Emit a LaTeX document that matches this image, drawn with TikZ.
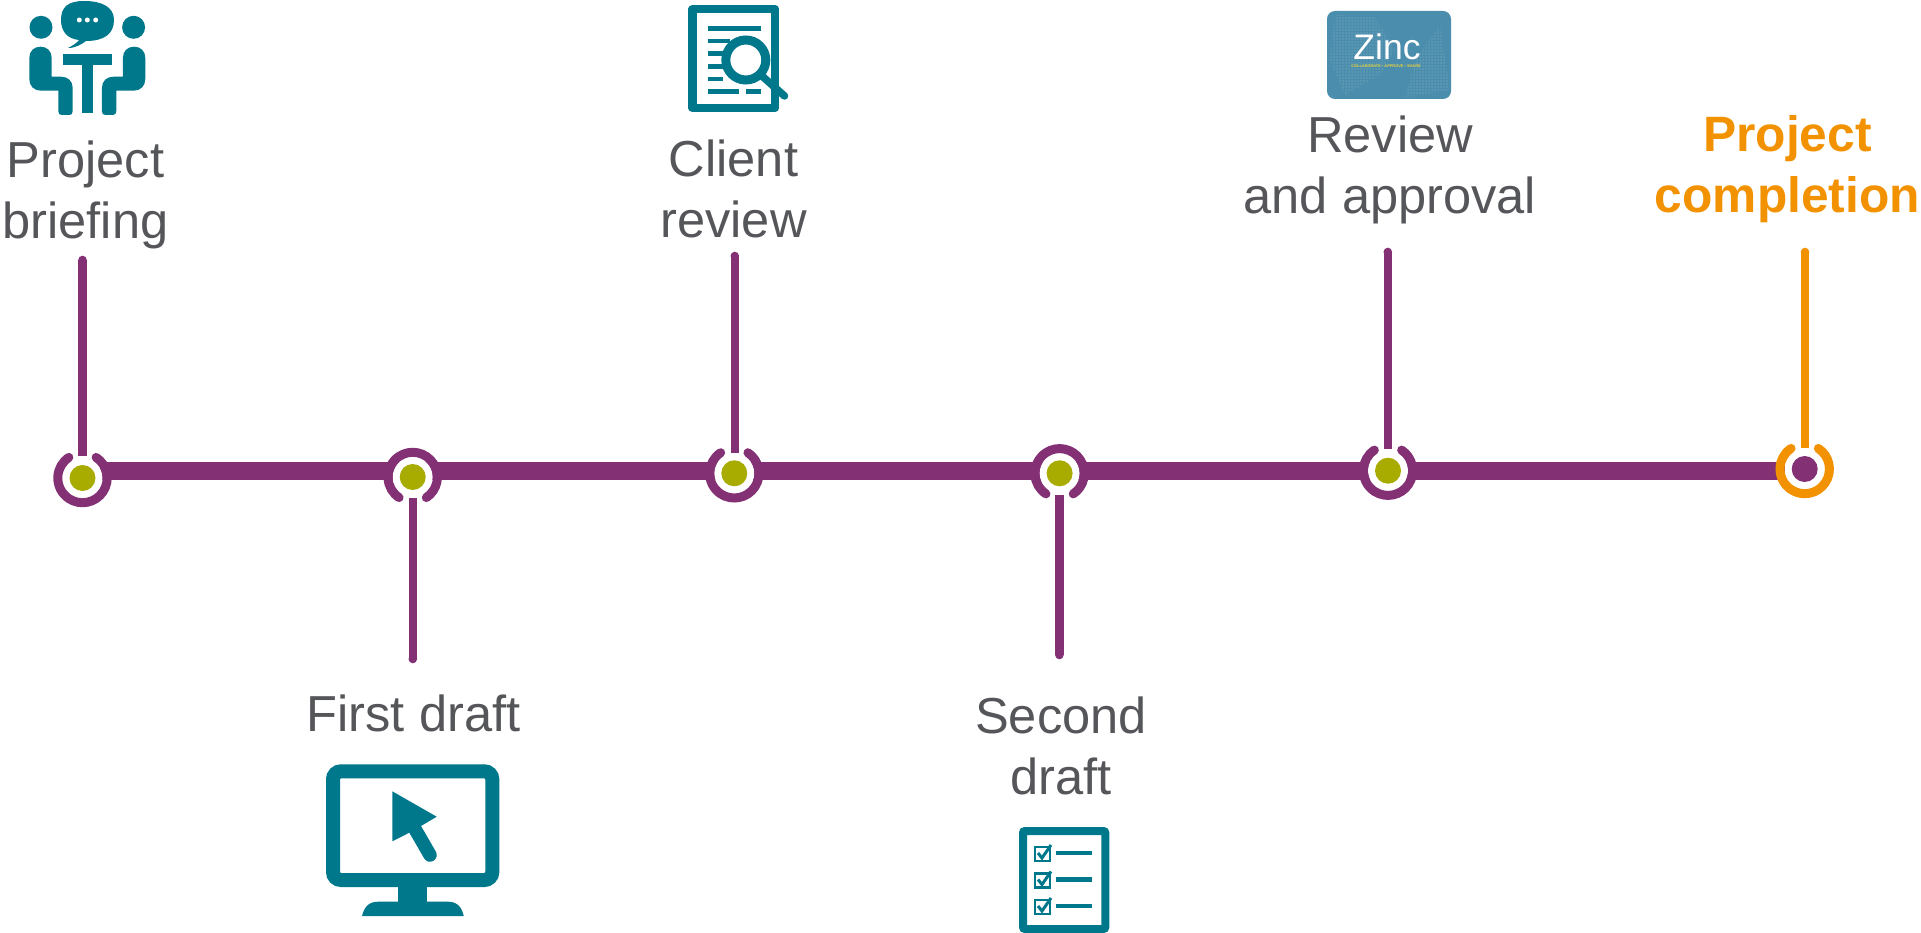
\documentclass[tikz,border=0pt]{standalone}
\usepackage{fontspec}
\setmainfont{Liberation Sans}
\definecolor{plum}{HTML}{843074}
\definecolor{olivegreen}{HTML}{A8AB00}
\definecolor{tealc}{HTML}{00788C}
\definecolor{greyt}{HTML}{55565A}
\definecolor{orangec}{HTML}{F39200}
\definecolor{zincb}{HTML}{4B8DAC}
\definecolor{zincy}{HTML}{E6D23C}
\tikzset{
  ringarc/.style={line width=9pt,line cap=round},
  stem/.style={line width=8.6pt,line cap=butt,plum},
  lab/.style={font=\fontsize{50.6}{61}\selectfont,text=greyt,align=center,inner sep=0pt},
  ico/.style={fill=tealc,draw=none},
  icol/.style={draw=tealc,line cap=butt},
}
% y axis points down: angles below are measured clockwise on the page
\newcommand{\ringup}[4]{%
  \coordinate (#1) at (#2,#3);
  \fill[white] (#1) circle (20);
  \draw[ringarc,#4] (#1) ++(-56.5:24.7) arc[start angle=-56.5,end angle=236.5,radius=24.7];
}
\newcommand{\ringdn}[4]{%
  \coordinate (#1) at (#2,#3);
  \fill[white] (#1) circle (20);
  \draw[ringarc,#4] (#1) ++(56.5:24.7) arc[start angle=56.5,end angle=-236.5,radius=24.7];
}
\newcommand{\personshape}{%
  \fill[ico] (41,27.3) circle (11.5);
  \fill[ico] (29.3,58) .. controls (29.3,51) and (34,46.7) .. (40.5,46.7)
    .. controls (47,46.7) and (51.7,51) .. (51.7,58)
    -- (51.7,76.7) -- (61,76.7) .. controls (68,76.7) and (72.7,81) .. (72.7,88)
    -- (72.7,111) .. controls (72.7,114) and (71.5,115) .. (69,115)
    -- (62,115) .. controls (59.5,115) and (58.3,114) .. (58.3,111)
    -- (58.3,90.7) -- (41,90.7) .. controls (34,90.7) and (29.3,86) .. (29.3,79) -- cycle;
}
\begin{document}
\begin{tikzpicture}[x=1pt,y=-1pt]
\useasboundingbox[fill=white] (0,0) rectangle (1921,933);
% main bar
\coordinate (barL) at (100,471);
\coordinate (barR) at (1785,471);
\draw[plum,line width=18pt] (barL) -- (barR);
% rings
\ringup{n1}{82.5}{478}{plum}
\ringdn{n2}{412.7}{477}{plum}
\ringup{n3}{734.3}{473.3}{plum}
\ringdn{n4}{1059.6}{473.3}{plum}
\ringup{n5}{1388}{470.7}{plum}
\ringup{n6}{1804.7}{469}{orangec}
\foreach \n in {n1,n2,n3,n4,n5}{\fill[olivegreen] (\n) circle (13);}
\fill[plum] (n6) circle (13);
% stems
\coordinate (s1) at (82.5,260);
\coordinate (s2) at (412.8,659);
\coordinate (s3) at (734.8,256);
\coordinate (s4) at (1059.4,655);
\coordinate (s5) at (1387.8,252);
\coordinate (s6) at (1805,252);
\coordinate (e1) at (82.5,456);
\coordinate (e2) at (412.8,498);
\coordinate (e3) at (734.8,452.7);
\coordinate (e4) at (1059.4,495);
\coordinate (e5) at (1387.8,449);
\coordinate (e6) at (1805,448);
\foreach \i in {1,...,5}{
  \draw[stem] (e\i) -- (s\i);
  \fill[plum] (s\i) circle (4.3);
}
\draw[stem,orangec] (e6) -- (s6);
\fill[orangec] (s6) circle (4.3);
% labels
\node[lab] (t1) at (85.5,195) {Project\\briefing};
\node[lab] (t2) at (413.5,713) {First draft};
\node[lab] (t3) at (733.5,189) {Client\\review};
\node[lab] (t4) at (1061,746) {Second\\draft};
\node[lab] (t5) at (1390,170) {Review\\and approval};
\node[lab,text=orangec,font=\fontsize{49.7}{61}\selectfont\bfseries] (t6) at (1787.5,169.5) {Project\\completion};
% icon 1: meeting
\personshape
\begin{scope}[xshift=174.6pt,xscale=-1]
\personshape
\end{scope}
\fill[ico] (84,1) .. controls (68,1) and (61,7) .. (61,20) .. controls (61,32) and (68,39) .. (79,40)
  .. controls (77,43) and (72,46) .. (68,48) .. controls (76,48) and (82,44) .. (86,41)
  .. controls (104,41) and (114,34) .. (114,20) .. controls (114,7) and (102,1) .. (84,1) -- cycle;
\fill[white] (79.3,20) circle (2.5) (87.3,20) circle (2.5) (95.7,20) circle (2.5);
\fill[ico] (63.3,54.3) rectangle (111.7,65.3);
\fill[ico] (81.7,65) rectangle (92.7,113.3);
% icon 2: document + magnifier
\draw[draw=tealc,line width=8.3pt,line join=round] (692.5,9.2) rectangle (775,108.2);
\foreach \y/\b in {28.3/761,41/730,53.3/725,66.3/725,79/723}{\draw[icol,line width=4.5pt] (708.3,\y) -- (\b,\y);}
\draw[icol,line width=4.5pt] (708.3,91.7) -- (739,91.7) (746,91.7) -- (761,91.7);
\fill[white] (745.8,60) circle (24);
\draw[tealc,line width=9pt] (745.8,60) circle (20);
\draw[tealc,line width=7.5pt,line cap=round] (762,76) -- (784.5,96);
% icon 3: Zinc
\fill[zincb,rounded corners=8pt] (1327,11) rectangle (1451,99);
\begin{scope}
\clip (1335,15) -- (1375,17) -- (1395,50) -- (1380,75) -- (1345,95) -- (1330,60) -- cycle;
\foreach \i in {0,...,22}{\foreach \j in {0,...,28}{\fill[white,opacity=.13] (1328+3*\i,12+3*\j) circle (1);}}
\end{scope}
\begin{scope}
\clip (1440,25) -- (1450,90) -- (1405,97) -- (1415,60) -- cycle;
\foreach \i in {0,...,18}{\foreach \j in {0,...,28}{\fill[white,opacity=.13] (1396+3*\i,12+3*\j) circle (1);}}
\end{scope}
\node[anchor=base,inner sep=0pt,text=white,font=\fontsize{35.5}{35}\selectfont] (zt) at (1387,60) {Zinc};
\node[anchor=base,inner sep=0pt,text=zincy,font=\fontsize{3.9}{4}\selectfont\bfseries] (zs) at (1386,67.5) {COLLABORATE • APPROVE • SHARE};
% icon 4: monitor
\draw[tealc,line width=14pt,rounded corners=8pt] (333,771.3) rectangle (492.3,880);
\fill[ico] (398.3,887) rectangle (427,905);
\fill[ico] (362,916) .. controls (364,908) and (368,901.7) .. (378,901.7) -- (448,901.7) .. controls (458,901.7) and (462,908) .. (463.7,916) -- cycle;
\fill[ico] (392.3,791.3) -- (436.7,816.7) -- (421,826) -- (409.3,832.7) -- (392.3,841.3) -- cycle;
\draw[tealc,line width=13.5pt,line cap=round] (415.2,829.4) -- (430,855);
% icon 5: checklist
\draw[draw=tealc,line width=8pt,rounded corners=2pt] (1023,831) rectangle (1105.3,929);
\foreach \y in {853,879.5,906}{
  \draw[tealc,line width=2.5pt] (1035,\y-6) rectangle (1050,\y+8);
  \draw[tealc,line width=3pt] (1038,\y) -- (1042,\y+5) -- (1051,\y-8);
  \draw[icol,line width=4.5pt] (1055.7,\y) -- (1092,\y);
}
\end{tikzpicture}
\end{document}
